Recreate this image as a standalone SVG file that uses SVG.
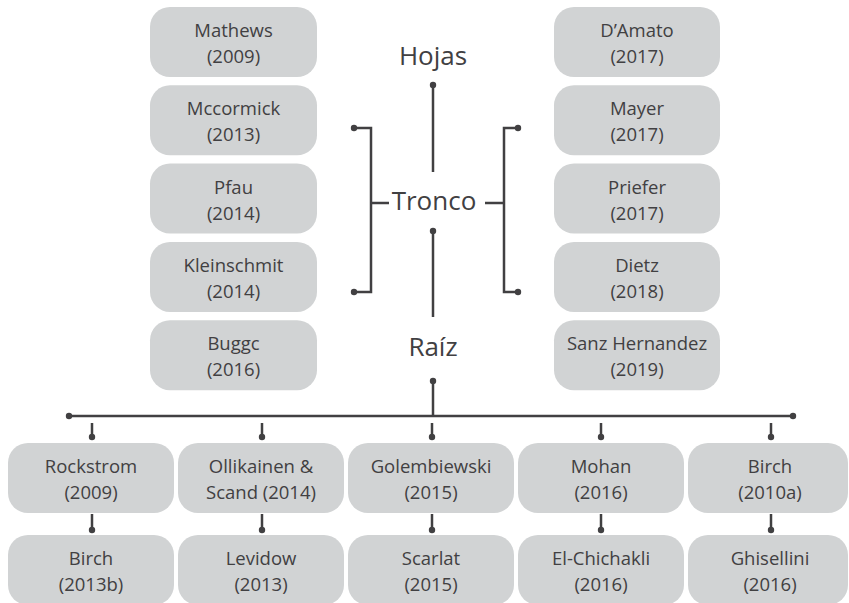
<svg xmlns="http://www.w3.org/2000/svg" width="849" height="603" viewBox="0 0 849 603">
<style>
.box{fill:#d1d3d4}
.t{font-family:"Open Sans","Noto Sans",sans-serif;font-size:18.5px;fill:#414042;text-anchor:middle}
.h{font-family:"Open Sans","Noto Sans",sans-serif;font-size:26px;fill:#414042;text-anchor:middle}
.ln{stroke:#414042;stroke-width:2.5;fill:none}
.dot{fill:#414042}
</style>
<rect width="849" height="603" fill="#ffffff"/>
<g id="left-col">
<g id="n-mathews"><rect class="box" x="150" y="7" width="167" height="70" rx="20"/><text class="t" x="233.5" y="37">Mathews</text><text class="t" x="233.5" y="63">(2009)</text></g>
<g id="n-mccormick"><rect class="box" x="150" y="85.3" width="167" height="70" rx="20"/><text class="t" x="233.5" y="115.3">Mccormick</text><text class="t" x="233.5" y="141.3">(2013)</text></g>
<g id="n-pfau"><rect class="box" x="150" y="163.6" width="167" height="70" rx="20"/><text class="t" x="233.5" y="193.6">Pfau</text><text class="t" x="233.5" y="219.6">(2014)</text></g>
<g id="n-kleinschmit"><rect class="box" x="150" y="241.9" width="167" height="70" rx="20"/><text class="t" x="233.5" y="271.9">Kleinschmit</text><text class="t" x="233.5" y="297.9">(2014)</text></g>
<g id="n-buggc"><rect class="box" x="150" y="320.2" width="167" height="70" rx="20"/><text class="t" x="233.5" y="350.2">Buggc</text><text class="t" x="233.5" y="376.2">(2016)</text></g>
</g>
<g id="right-col">
<g id="n-damato"><rect class="box" x="554" y="7" width="166" height="70" rx="20"/><text class="t" x="637" y="37">D’Amato</text><text class="t" x="637" y="63">(2017)</text></g>
<g id="n-mayer"><rect class="box" x="554" y="85.3" width="166" height="70" rx="20"/><text class="t" x="637" y="115.3">Mayer</text><text class="t" x="637" y="141.3">(2017)</text></g>
<g id="n-priefer"><rect class="box" x="554" y="163.6" width="166" height="70" rx="20"/><text class="t" x="637" y="193.6">Priefer</text><text class="t" x="637" y="219.6">(2017)</text></g>
<g id="n-dietz"><rect class="box" x="554" y="241.9" width="166" height="70" rx="20"/><text class="t" x="637" y="271.9">Dietz</text><text class="t" x="637" y="297.9">(2018)</text></g>
<g id="n-sanz"><rect class="box" x="554" y="320.2" width="166" height="70" rx="20"/><text class="t" x="637" y="350.2">Sanz Hernandez</text><text class="t" x="637" y="376.2">(2019)</text></g>
</g>
<g id="center-labels">
<g id="n-hojas"><text class="h" x="433" y="65">Hojas</text></g>
<g id="n-tronco"><text class="h" x="434" y="210">Tronco</text></g>
<g id="n-raiz"><text class="h" x="433" y="356">Raíz</text></g>
</g>
<g id="row1">
<g id="n-rockstrom"><rect class="box" x="8" y="443" width="166" height="70" rx="20"/><text class="t" x="91" y="473">Rockstrom</text><text class="t" x="91" y="499">(2009)</text></g>
<g id="n-ollikainen"><rect class="box" x="178" y="443" width="166" height="70" rx="20"/><text class="t" x="261" y="473">Ollikainen &amp;</text><text class="t" x="261" y="499">Scand (2014)</text></g>
<g id="n-golembiewski"><rect class="box" x="348" y="443" width="166" height="70" rx="20"/><text class="t" x="431" y="473">Golembiewski</text><text class="t" x="431" y="499">(2015)</text></g>
<g id="n-mohan"><rect class="box" x="518" y="443" width="166" height="70" rx="20"/><text class="t" x="601" y="473">Mohan</text><text class="t" x="601" y="499">(2016)</text></g>
<g id="n-birch-a"><rect class="box" x="688" y="443" width="160" height="70" rx="20"/><text class="t" x="770" y="473">Birch</text><text class="t" x="770" y="499">(2010a)</text></g>
</g>
<g id="row2">
<g id="n-birch-b"><rect class="box" x="8" y="535" width="166" height="70" rx="20"/><text class="t" x="91" y="565">Birch</text><text class="t" x="91" y="591">(2013b)</text></g>
<g id="n-levidow"><rect class="box" x="178" y="535" width="166" height="70" rx="20"/><text class="t" x="261" y="565">Levidow</text><text class="t" x="261" y="591">(2013)</text></g>
<g id="n-scarlat"><rect class="box" x="348" y="535" width="166" height="70" rx="20"/><text class="t" x="431" y="565">Scarlat</text><text class="t" x="431" y="591">(2015)</text></g>
<g id="n-elchichakli"><rect class="box" x="518" y="535" width="166" height="70" rx="20"/><text class="t" x="601" y="565">El-Chichakli</text><text class="t" x="601" y="591">(2016)</text></g>
<g id="n-ghisellini"><rect class="box" x="688" y="535" width="160" height="70" rx="20"/><text class="t" x="770" y="565">Ghisellini</text><text class="t" x="770" y="591">(2016)</text></g>
</g>
<g id="connectors">
<path class="ln" d="M433 85V172"/><circle class="dot" cx="433" cy="85" r="3.2"/>
<path class="ln" d="M354 128H371V292H354M371 203H389"/><circle class="dot" cx="354" cy="128" r="3.2"/><circle class="dot" cx="354" cy="292" r="3.2"/>
<path class="ln" d="M518 128H504V292H518M485 203H504"/><circle class="dot" cx="518" cy="128" r="3.2"/><circle class="dot" cx="518" cy="292" r="3.2"/>
<path class="ln" d="M433 231V317"/><circle class="dot" cx="433" cy="231" r="3.2"/>
<path class="ln" d="M433 381V416"/><circle class="dot" cx="433" cy="381" r="3.2"/>
<path class="ln" d="M69 416H793"/><circle class="dot" cx="69" cy="416" r="3.2"/><circle class="dot" cx="793" cy="416" r="3.2"/>
<path class="ln" d="M92 423V437M262 423V437M432 423V437M601 423V437M771 423V437"/>
<circle class="dot" cx="92" cy="437" r="3.2"/><circle class="dot" cx="262" cy="437" r="3.2"/><circle class="dot" cx="432" cy="437" r="3.2"/><circle class="dot" cx="601" cy="437" r="3.2"/><circle class="dot" cx="771" cy="437" r="3.2"/>
<path class="ln" d="M92 514V530M262 514V530M432 514V530M601 514V530M771 514V530"/>
<circle class="dot" cx="92" cy="530" r="3.2"/><circle class="dot" cx="262" cy="530" r="3.2"/><circle class="dot" cx="432" cy="530" r="3.2"/><circle class="dot" cx="601" cy="530" r="3.2"/><circle class="dot" cx="771" cy="530" r="3.2"/>
</g>
</svg>
